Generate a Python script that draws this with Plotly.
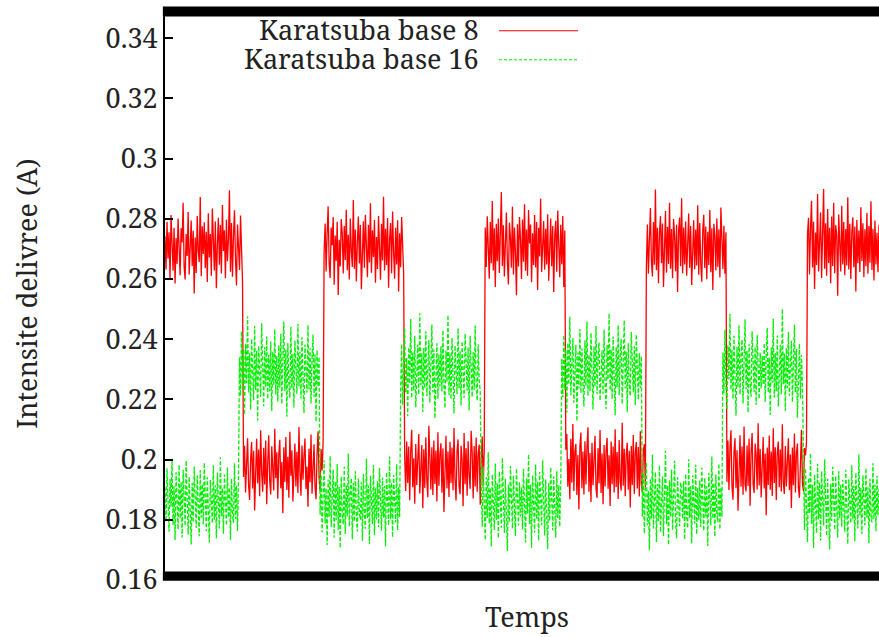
import plotly.graph_objects as go

# Current drawn over time, in units of 0.1 mA (divided by 1e4 below to get amperes).
# Karatsuba base 8: high / low phases, 20 samples per row.
red_tenth_ma = [
    # high
    2742, 2631, 2790, 2668, 2755, 2601, 2812, 2689, 2627, 2770, 2585, 2736, 2650, 2801, 2702, 2612, 2768, 2721, 2853, 2640,
    2598, 2749, 2676, 2822, 2615, 2731, 2794, 2643, 2760, 2552, 2738, 2620, 2809, 2694, 2656, 2872, 2609, 2775, 2683, 2788,
    2636, 2757, 2590, 2818, 2671, 2749, 2611, 2834, 2725, 2628, 2791, 2569, 2716, 2803, 2647, 2779, 2618, 2846, 2693, 2762,
    2602, 2797, 2659, 2733, 2895, 2624, 2786, 2607, 2744, 2828, 2665, 2578, 2781, 2700, 2630, 2811, 2672, 2589,
    # low
    1942, 2046, 1891, 2012, 2071, 1915, 1866, 1998, 2058, 1904, 2029, 1831, 1987, 2069, 1921, 2033, 1878, 2097, 1955, 1893,
    2039, 1917, 2063, 1852, 1990, 2081, 1929, 1884, 2044, 1962, 1897, 2102, 1938, 2024, 1870, 2017, 2066, 1905, 1992, 1822,
    2041, 1926, 2075, 1899, 2009, 1873, 2092, 1946, 2031, 1861, 1985, 2053, 1911, 2026, 1889, 2108, 1958, 1880, 2047, 1933,
    2013, 2070, 1902, 1977, 1843, 2036, 1925, 2083, 1887, 1996, 2051, 1909, 1868, 2020, 2094, 1940, 1895, 2035, 1964, 2057,
    # high
    2688, 2784, 2625, 2753, 2841, 2652, 2603, 2771, 2712, 2806, 2581, 2744, 2660, 2790, 2547, 2730, 2641, 2799, 2753, 2618,
    2776, 2663, 2830, 2629, 2747, 2598, 2801, 2695, 2640, 2862, 2634, 2764, 2592, 2722, 2807, 2651, 2779, 2566, 2741, 2792,
    2637, 2813, 2710, 2606, 2780, 2655, 2851, 2621, 2762, 2673, 2796, 2587, 2739, 2633, 2809, 2715, 2597, 2783, 2661, 2873,
    2628, 2767, 2646, 2802, 2571, 2733, 2786, 2619, 2824, 2690, 2601, 2770, 2648, 2795, 2558, 2752, 2639, 2806, 2724, 2615,
    # low
    2011, 1896, 2060, 1922, 2043, 1865, 2026, 2099, 1908, 2004, 1853, 2052, 1916, 2023, 2085, 1887, 1999, 2048, 1838, 2034,
    1906, 2074, 1931, 1875, 2112, 1994, 1901, 2041, 1882, 2063, 1919, 2030, 1861, 2091, 1913, 2019, 2054, 1890, 2037, 1826,
    1959, 2079, 1905, 2027, 1876, 2059, 1922, 2040, 1898, 2105, 1933, 1864, 2028, 2067, 1912, 1885, 2046, 2001, 1845, 2088,
    1918, 2038, 1880, 2061, 1949, 1903, 2096, 2025, 1871, 2045, 1911, 2073, 1893, 2021, 2050, 1850, 2003, 2077, 1914, 2032,
    # high
    2771, 2640, 2808, 2680, 2601, 2789, 2652, 2859, 2628, 2768, 2573, 2783, 2659, 2801, 2620, 2757, 2889, 2643, 2778, 2608,
    2744, 2821, 2654, 2582, 2787, 2738, 2637, 2840, 2615, 2771, 2688, 2546, 2782, 2641, 2806, 2733, 2600, 2797, 2657, 2848,
    2627, 2764, 2611, 2829, 2718, 2781, 2589, 2752, 2646, 2812, 2638, 2789, 2563, 2770, 2675, 2866, 2623, 2756, 2792, 2631,
    2767, 2648, 2815, 2594, 2758, 2801, 2642, 2776, 2557, 2746, 2793, 2624, 2827, 2711, 2606, 2780, 2649, 2809, 2573, 2761,
    # low
    2033, 2085, 1910, 2002, 1868, 2069, 1923, 2118, 1896, 2028, 2052, 1882, 2015, 1834, 2044, 2090, 1905, 2027, 1884, 2061,
    1917, 2041, 2107, 1893, 2022, 1859, 2055, 1915, 2034, 2079, 1902, 1873, 2038, 1921, 2098, 1889, 2020, 1852, 2048, 1911,
    2031, 2072, 1903, 2014, 1846, 2060, 1918, 2043, 1891, 2101, 1909, 2025, 1869, 2065, 1927, 1897, 2122, 1913, 2036, 1878,
    2018, 2056, 1900, 2029, 1841, 2045, 1916, 2082, 1886, 2023, 2058, 1904, 2042, 1877, 2094, 1920, 1892, 2032, 2051, 1908,
    # high
    2640, 2781, 2617, 2761, 2836, 2660, 2608, 2789, 2647, 2897, 2629, 2770, 2586, 2753, 2809, 2652, 2784, 2573, 2746, 2826,
    2621, 2773, 2650, 2853, 2634, 2766, 2602, 2799, 2745, 2626, 2780, 2557, 2759, 2804, 2642, 2868, 2619, 2771, 2648, 2791,
    2611, 2754, 2817, 2637, 2776, 2580, 2749, 2795, 2632, 2764, 2645, 2845, 2614, 2786, 2652, 2591, 2762, 2813, 2636, 2774,
    2599, 2757, 2646, 2829, 2622, 2768, 2563, 2783, 2744, 2628, 2801, 2640, 2765, 2605, 2837, 2748, 2633, 2777, 2617, 2755,
    # low
    1926, 2063, 1899, 2038, 2097, 1912, 1867, 2025, 2071, 1905, 2031, 1830, 2012, 2081, 1910, 2043, 1883, 2110, 1917, 1894,
    2047, 1912, 2069, 1847, 2023, 2088, 1918, 1889, 2053, 2017, 1901, 2121, 1914, 2035, 1874, 2030, 2075, 1904, 2020, 1815,
    2040, 1916, 2080, 1900, 2027, 1879, 2104, 1922, 2041, 1866, 2024, 2060, 1908, 2033, 1894, 2117, 1921, 1886, 2045, 1911,
    2028, 2071, 1898, 2017, 1839, 2040, 1915, 2087, 1891, 2022, 2053, 1906, 1873, 2032, 2099, 1919, 1896, 2038, 2014, 2057,
    # high
    2748, 2803, 2615, 2769, 2860, 2638, 2790, 2567, 2754, 2646, 2882, 2625, 2776, 2821, 2603, 2763, 2899, 2634, 2785, 2611,
    2832, 2653, 2770, 2586, 2807, 2643, 2853, 2619, 2778, 2747, 2544, 2814, 2669, 2625, 2843, 2648, 2789, 2612, 2766, 2645,
    2871, 2631, 2783, 2600, 2757, 2805, 2639, 2774, 2558, 2796, 2652, 2761, 2623, 2838, 2660, 2785, 2606, 2765, 2642, 2819,
    2617, 2776, 2654, 2858, 2630, 2767, 2595, 2794, 2648, 2753, 2622, 2780,
]

# Karatsuba base 16: low / high phases, 20 samples per row.
green_tenth_ma = [
    # low
    1908, 1794, 1971, 1827, 1760, 1936, 1843, 2002, 1782, 1911, 1733, 1958, 1814, 1768, 1983, 1803, 1926, 1741, 1966, 1832,
    1780, 1997, 1810, 1751, 1943, 1817, 1718, 1922, 1791, 1977, 1831, 1773, 1948, 1816, 1745, 1965, 1808, 1919, 1785, 1990,
    1824, 1762, 1941, 1806, 1725, 1932, 1834, 1788, 1981, 1800, 1915, 1739, 1957, 1819, 1771, 2008, 1812, 1906, 1754, 1950,
    1826, 1781, 1974, 1808, 1907, 1734, 1937, 1815, 1790, 1988, 1803, 1915, 1763, 1947,
    # high
    2340, 2212, 2427, 2235, 2366, 2149, 2385, 2254, 2476, 2223, 2353, 2166, 2401, 2246, 2197, 2444, 2231, 2362, 2130, 2377,
    2255, 2208, 2453, 2336, 2177, 2374, 2240, 2409, 2201, 2347, 2227, 2392, 2161, 2358, 2249, 2433, 2216, 2344, 2193, 2380,
    2239, 2418, 2184, 2332, 2459, 2228, 2365, 2142, 2387, 2253, 2205, 2440, 2235, 2351, 2173, 2396, 2258, 2219, 2451, 2244,
    2359, 2203, 2406, 2251, 2155, 2382, 2267, 2222, 2447, 2233, 2370, 2186, 2334, 2415, 2209, 2350, 2125, 2364, 2242, 2341,
    # low
    1817, 1949, 1758, 1913, 1998, 1787, 1905, 1716, 1934, 1810, 2012, 1776, 1901, 1966, 1741, 1928, 1799, 1985, 1767, 1909,
    1706, 1943, 1822, 1784, 1976, 1753, 1917, 1811, 2020, 1778, 1897, 1939, 1735, 1922, 1794, 1961, 1816, 1761, 1937, 1826,
    1800, 1925, 1730, 1952, 1813, 1770, 2003, 1805, 1914, 1719, 1946, 1821, 1786, 1982, 1749, 1905, 1801, 1928, 1775, 1972,
    1829, 1764, 1940, 1807, 1913, 1712, 1958, 1818, 1781, 2010, 1802, 1924, 1742, 1949, 1823, 1791, 1985, 1766, 1908, 1809,
    # high
    2233, 2384, 2182, 2346, 2438, 2221, 2337, 2144, 2373, 2252, 2467, 2204, 2356, 2228, 2411, 2174, 2331, 2382, 2216, 2486,
    2247, 2353, 2158, 2371, 2236, 2426, 2211, 2339, 2397, 2189, 2326, 2449, 2224, 2366, 2137, 2334, 2386, 2202, 2349, 2243,
    2377, 2226, 2430, 2249, 2171, 2362, 2258, 2480, 2214, 2352, 2200, 2404, 2241, 2153, 2379, 2262, 2218, 2436, 2237, 2360,
    2180, 2393, 2253, 2205, 2418, 2340, 2229, 2372, 2163, 2411, 2257, 2208, 2357, 2232, 2445, 2246, 2195, 2383, 2265, 2227,
    # low
    1914, 1777, 1976, 1818, 1732, 1941, 1806, 2024, 1787, 1906, 1711, 1951, 1825, 1766, 1987, 1799, 1921, 1739, 1961, 1816,
    1774, 2006, 1831, 1756, 1936, 1807, 1696, 1916, 1792, 1979, 1824, 1771, 1946, 1817, 1746, 1971, 1834, 1781, 1925, 1811,
    1907, 1768, 1969, 1813, 1725, 1938, 1821, 2018, 1786, 1917, 1707, 1948, 1816, 1757, 1984, 1801, 1926, 1731, 1959, 1827,
    1782, 1998, 1811, 1748, 1934, 1818, 1702, 1921, 1796, 1975, 1829, 1765, 1944, 1820, 1741, 1962, 1806, 1915, 1777, 1930,
    # high
    2336, 2207, 2414, 2231, 2366, 2156, 2387, 2249, 2474, 2214, 2347, 2403, 2189, 2331, 2381, 2127, 2356, 2236, 2434, 2221,
    2369, 2254, 2176, 2396, 2244, 2459, 2211, 2349, 2227, 2421, 2264, 2166, 2376, 2241, 2444, 2217, 2341, 2389, 2196, 2326,
    2363, 2219, 2432, 2246, 2168, 2381, 2265, 2486, 2229, 2366, 2201, 2409, 2254, 2147, 2374, 2241, 2447, 2214, 2346, 2401,
    2184, 2337, 2463, 2236, 2359, 2157, 2386, 2249, 2211, 2424, 2266, 2224, 2376, 2181, 2416, 2256, 2199, 2354, 2237, 2344,
    # low
    1811, 1956, 1754, 1909, 1991, 1781, 1896, 1699, 1936, 1804, 2016, 1771, 1906, 1959, 1726, 1919, 1796, 1981, 1759, 1901,
    1944, 1746, 1886, 2029, 1786, 1914, 1716, 1931, 1809, 1966, 1766, 1904, 1996, 1791, 1739, 1941, 1819, 1779, 1924, 1899,
    1803, 1928, 1734, 1953, 1814, 1772, 2001, 1806, 1912, 1722, 1948, 1822, 1787, 1983, 1751, 1906, 1799, 1931, 1776, 1973,
    1828, 1763, 1939, 1810, 1911, 1713, 1956, 1817, 1782, 2009, 1804, 1923, 1744, 1950, 1821, 1792, 1987, 1768, 1907, 1810,
    # high
    2356, 2219, 2431, 2244, 2166, 2379, 2266, 2484, 2231, 2364, 2201, 2411, 2256, 2146, 2374, 2239, 2446, 2216, 2344, 2399,
    2186, 2334, 2466, 2234, 2361, 2156, 2384, 2251, 2209, 2426, 2266, 2224, 2374, 2181, 2414, 2254, 2201, 2356, 2236, 2344,
    2248, 2387, 2191, 2351, 2437, 2222, 2339, 2148, 2372, 2255, 2468, 2206, 2354, 2227, 2412, 2176, 2329, 2381, 2217, 2501,
    2250, 2352, 2161, 2370, 2238, 2424, 2212, 2338, 2395, 2191, 2327, 2448, 2223, 2367, 2139, 2333, 2385, 2203, 2348, 2245,
    # low
    1906, 1766, 1971, 1811, 1726, 1939, 1821, 2021, 1786, 1916, 1706, 1951, 1816, 1756, 1986, 1801, 1924, 1731, 1961, 1826,
    1781, 2001, 1811, 1746, 1936, 1816, 1701, 1919, 1796, 1976, 1831, 1766, 1946, 1821, 1741, 1961, 1806, 1916, 1777, 1933,
    1824, 1760, 1966, 1809, 1719, 1934, 1831, 1788, 1981, 1801, 1914, 1729, 1956, 1818, 1771, 2017, 1812, 1906, 1753, 1948,
    1827, 1782, 1972, 1807, 1908, 1723, 1936, 1816, 1791, 1988, 1803, 1917, 1762, 1946, 1814, 1903,
]

series_names = ["Karatsuba base 8", "Karatsuba base 16"]
y_tick_values = [0.16, 0.18, 0.20, 0.22, 0.24, 0.26, 0.28, 0.30, 0.32, 0.34]
y_tick_labels = ["0.16", "0.18", "0.2", "0.22", "0.24", "0.26", "0.28", "0.3", "0.32", "0.34"]

red_amps = [v / 1e4 for v in red_tenth_ma]
green_amps = [v / 1e4 for v in green_tenth_ma]

FONT = "Noto Serif"
TEXT = "#222222"
FS = 27
RED = "#ff0000"
GREEN = "#00f000"

fig = go.Figure()
fig.add_trace(go.Scatter(x=list(range(len(red_amps))), y=red_amps, mode="lines", name=series_names[0],
                         line=dict(color=RED, width=1.3)))
fig.add_trace(go.Scatter(x=list(range(len(green_amps))), y=green_amps, mode="lines", name=series_names[1],
                         line=dict(color=GREEN, width=1.3, dash="4px,2px")))

n_samples = max(len(red_amps), len(green_amps))
fig.update_layout(
    width=879, height=637,
    margin=dict(l=165, r=0, t=8, b=57),
    paper_bgcolor="white", plot_bgcolor="white",
    showlegend=False,
    font=dict(family=FONT, size=FS, color=TEXT),
)
fig.update_xaxes(range=[0, n_samples - 1], showticklabels=False, ticks="",
                 showgrid=False, zeroline=False, showline=False)
fig.update_yaxes(range=[0.16, 0.35], tickvals=y_tick_values, ticktext=y_tick_labels,
                 ticks="inside", ticklen=8, tickwidth=1.5, tickcolor="black",
                 showline=True, linewidth=2, linecolor="black",
                 showgrid=False, zeroline=False,
                 tickfont=dict(family=FONT, size=FS, color=TEXT))

# heavy top and bottom frame bars
fig.add_shape(type="rect", xref="paper", yref="paper", x0=-0.003, x1=1.0,
              y0=-0.0012, y1=0.015, fillcolor="black", line_width=0, layer="above")
fig.add_shape(type="rect", xref="paper", yref="paper", x0=-0.003, x1=1.0,
              y0=0.9851, y1=1.0026, fillcolor="black", line_width=0, layer="above")

# gnuplot-style key: right-aligned label followed by a line sample
key_rows = [(0.9602, RED, "solid"), (0.9095, GREEN, "3px,2px")]
for name, (ky, col, dash) in zip(series_names, key_rows):
    fig.add_annotation(xref="paper", yref="paper", x=0.4412, y=ky + 0.003, text=name,
                       showarrow=False, xanchor="right", yanchor="middle", borderpad=0,
                       font=dict(family=FONT, size=FS, color=TEXT))
    fig.add_shape(type="line", xref="paper", yref="paper", x0=0.4678, x1=0.5784,
                  y0=ky, y1=ky, line=dict(color=col, width=1.2, dash=dash))

# axis titles
fig.add_annotation(xref="paper", yref="paper", x=-0.1933, y=0.502, text="Intensite delivree (A)",
                   textangle=-90, showarrow=False, xanchor="center", yanchor="middle",
                   font=dict(family=FONT, size=FS, color=TEXT))
fig.add_annotation(xref="paper", yref="paper", x=0.507, y=-0.0645, text="Temps",
                   showarrow=False, xanchor="center", yanchor="middle", borderpad=0,
                   font=dict(family=FONT, size=FS, color=TEXT))

fig.write_html("out.html")
